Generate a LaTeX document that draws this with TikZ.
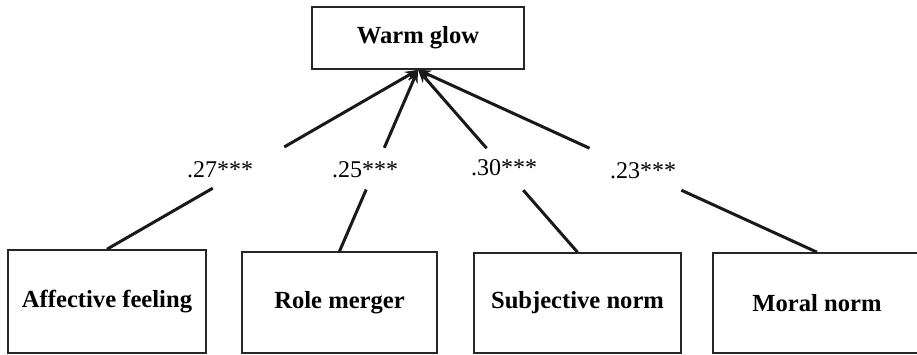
\documentclass[tikz,border=0pt]{standalone}
\usepackage{fontspec}
\setmainfont{Liberation Serif}
\usetikzlibrary{calc,arrows.meta}
\begin{document}
\begin{tikzpicture}[x=1pt,y=-1pt,
  box/.style={draw=black!85,line width=1.6pt,inner sep=0pt,
    font=\fontsize{24.6}{28}\selectfont\bfseries},
  coef/.style={inner sep=0pt,font=\fontsize{24}{28}\selectfont},
  path/.style={line width=3pt,black!90},
  tip/.style={-{Stealth[length=13pt,width=10pt]}}]
\useasboundingbox (0,0) rectangle (917,354);
\begin{scope}
\clip (0,0) rectangle (917,354);
% outcome
\node[box,minimum width=212pt,minimum height=62pt] (warm) at (418,38) {Warm glow};
% predictors
\node[box,minimum width=198pt,minimum height=103pt] (aff) at (107,301.5) {Affective feeling};
\node[box,minimum width=195pt,minimum height=101pt] (role) at (339.5,302.5) {Role merger};
\node[box,minimum width=207pt,minimum height=100pt] (subj) at (577.5,303) {Subjective norm};
\node[box,minimum width=208pt,minimum height=100pt] (moral) at (817,303) {Moral norm};
% path coefficients
\node[coef] (caff) at (220,170) {.27***};
\node[coef] (crole) at (365,170) {.25***};
\node[coef] (csubj) at (504,168) {.30***};
\node[coef] (cmoral) at (643,171) {.23***};
% paths, interrupted where the coefficient is printed
\foreach \s in {aff,role,subj,moral}{
  \draw[path] (\s.north) -- ($(\s.north)!0.34!(warm.south)$);
  \draw[path,tip] ($(\s.north)!0.57!(warm.south)$) -- (warm.south);
}
\end{scope}
\end{tikzpicture}
\end{document}
